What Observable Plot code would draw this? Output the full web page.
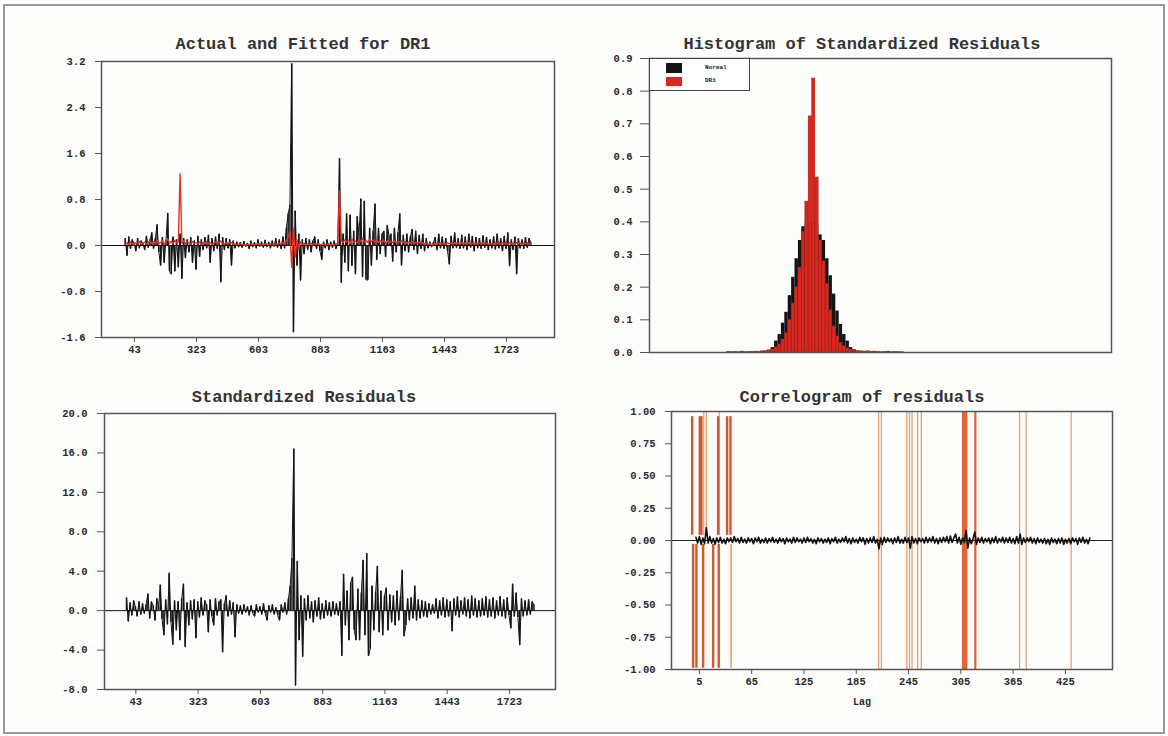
<!DOCTYPE html>
<html>
<head>
<meta charset="utf-8">
<script src="https://cdn.jsdelivr.net/npm/d3@7"></script>
<script src="https://cdn.jsdelivr.net/npm/@observablehq/plot@0.6"></script>
<style>
  html, body { margin: 0; padding: 0; background: #ffffff; }
  #page { position: relative; width: 1168px; height: 736px; background: #fdfdfc; overflow: hidden; }
  #border { position: absolute; left: 3px; top: 4px; width: 1162px; height: 730px; box-sizing: border-box; border: 2px solid #9a9a9a; }
  .panel { position: absolute; }
  .title { position: absolute; font-family: "Liberation Mono", monospace; font-size: 17px; font-weight: bold; color: #333; white-space: nowrap; transform: translate(-50%, -50%); }
  .lbl { position: absolute; font-family: "Liberation Mono", monospace; font-size: 10px; font-weight: bold; color: #2a2a2a; transform: translate(-50%, -50%); }
  #legend { position: absolute; left: 649px; top: 58px; width: 101px; height: 33px; box-sizing: border-box; border: 1.5px solid #444; background: #fff; }
  .sw { position: absolute; left: 16px; width: 16px; }
  .legtxt { position: absolute; left: 55px; font-family: "Liberation Mono", monospace; font-size: 6px; font-weight: bold; color: #222; }
</style>
</head>
<body>
<div id="page">
  <div id="border"></div>
</div>
<script>
// ---------------- DATA ----------------
// Actual and fitted DR1 (every 8th observation, starting at obs 1)
const obsStep = 8;
const actualDR1 = [
  0.12, -0.18, 0.15, -0.06, 0.1, 0.04, -0.1, 0.12, -0.05, 0.08,
  0.03, -0.08, 0.16, -0.04, 0.1, 0.22, -0.06, 0.12, 0.36, -0.12,
  -0.35, 0.14, -0.3, 0.08, 0.56, -0.45, -0.5, 0.15, -0.45, 0.1,
  -0.38, 0.2, -0.58, 0.12, -0.22, 0.1, -0.12, 0.14, -0.3, 0.08,
  -0.42, 0.16, -0.2, 0.1, -0.08, 0.14, -0.05, 0.18, -0.3, 0.12,
  -0.1, 0.15, -0.06, 0.2, -0.64, 0.14, -0.08, 0.12, -0.05, 0.1,
  -0.35, 0.08, -0.05, 0.06, -0.03, 0.05, -0.04, 0.07, -0.02, 0.04,
  -0.06, 0.08, -0.03, 0.05, -0.05, 0.1, -0.02, 0.06, -0.04, 0.09,
  -0.03, 0.06, -0.05, 0.08, -0.02, 0.12, -0.04, 0.1, -0.06, 0.15,
  -0.05, 0.3, 0.55, 0.7, 3.16, -1.51, 0.6, -0.35, 0.2, -0.61,
  0.1, -0.15, 0.12, -0.08, 0.1, -0.12, 0.08, 0.15, -0.06, 0.1,
  -0.1, -0.25, 0.06, -0.05, 0.1, -0.08, 0.06, -0.04, 0.08, -0.06,
  0.05, 1.51, -0.65, 0.2, -0.3, 0.55, -0.45, 0.53, -0.35, 0.25,
  -0.5, 0.5, 0.18, 0.81, -0.55, 0.77, -0.6, -0.6, 0.3, -0.35,
  0.25, 0.72, -0.25, 0.3, -0.15, 0.2, 0.25, -0.2, 0.35, 0.15,
  0.2, -0.28, 0.3, -0.12, 0.22, 0.55, -0.35, 0.18, -0.1, 0.2,
  -0.12, 0.15, 0.28, -0.08, 0.25, -0.15, 0.18, -0.06, 0.2, -0.1,
  0.12, -0.05, 0.06, -0.03, 0.05, 0.14, -0.08, 0.2, -0.05, 0.15,
  -0.06, 0.12, -0.1, -0.33, 0.16, -0.05, 0.22, -0.04, 0.12, -0.06,
  0.18, -0.05, 0.15, -0.08, 0.2, -0.04, 0.16, -0.1, 0.14, -0.05,
  0.12, -0.06, 0.17, -0.04, 0.14, -0.08, 0.1, -0.05, 0.15, -0.07,
  0.2, -0.05, 0.12, -0.1, 0.16, -0.06, 0.22, -0.36, 0.1, -0.08,
  0.15, -0.5, 0.12, -0.05, 0.1, -0.06, 0.14, -0.04, 0.12, 0.05
];
const fittedDR1 = [
  0.03, 0.05, 0.02, 0.06, 0.04, 0.01, 0.05, 0.03, 0.07, 0.02,
  0.04, 0.06, 0.02, 0.05, 0.08, 0.03, 0.06, 0.04, 0.1, 0.03,
  0.05, 0.08, 0.02, 0.06, 0.12, 0.04, 0.07, 0.03, 0.09, 0.05,
  0.06, 1.25, 0.04, 0.08, 0.03, 0.06, 0.05, 0.02, 0.07, 0.04,
  0.05, 0.03, 0.06, 0.02, 0.05, 0.04, 0.07, 0.03, 0.05, 0.02,
  0.04, 0.06, 0.03, 0.05, 0.08, 0.04, 0.02, 0.05, 0.03, 0.04,
  0.05, 0.02, 0.03, 0.01, 0.02, 0.03, 0.01, 0.02, 0.0, 0.02,
  0.01, 0.03, 0.02, 0.01, 0.02, 0.03, 0.01, 0.02, 0.01, 0.03,
  0.02, 0.01, 0.03, 0.02, 0.01, 0.03, 0.02, 0.04, 0.02, 0.05,
  0.03, 0.08, 0.15, 0.25, -0.38, 0.3, -0.2, 0.1, -0.05, 0.06,
  0.02, 0.04, 0.01, 0.03, 0.02, 0.04, 0.01, 0.03, 0.02, 0.03,
  0.01, 0.02, 0.03, 0.01, 0.02, 0.03, 0.01, 0.02, 0.01, 0.03,
  0.02, 0.95, 0.08, 0.05, 0.1, 0.06, 0.09, 0.04, 0.11, 0.06,
  0.08, 0.05, 0.1, 0.07, 0.12, 0.06, 0.09, 0.05, 0.11, 0.07,
  0.09, 0.06, 0.1, 0.05, 0.08, 0.06, 0.09, 0.04, 0.08, 0.06,
  0.07, 0.05, 0.09, 0.04, 0.07, 0.06, 0.08, 0.05, 0.07, 0.04,
  0.06, 0.04, 0.07, 0.03, 0.05, 0.04, 0.06, 0.03, 0.05, 0.02,
  0.04, 0.02, 0.03, 0.01, 0.02, 0.03, 0.02, 0.04, 0.02, 0.03,
  0.04, 0.02, 0.05, 0.03, 0.04, 0.02, 0.05, 0.03, 0.04, 0.02,
  0.05, 0.03, 0.04, 0.02, 0.05, 0.03, 0.04, 0.02, 0.04, 0.03,
  0.04, 0.02, 0.05, 0.03, 0.04, 0.02, 0.03, 0.04, 0.02, 0.05,
  0.03, 0.04, 0.02, 0.05, 0.03, 0.04, 0.02, 0.05, 0.03, 0.04,
  0.02, 0.05, 0.03, 0.04, 0.02, 0.04, 0.03, 0.05, 0.02, 0.03
];
// Standardized residuals (every 8th observation)
const stdResid = [
  1.3, -1.1, 0.8, -0.5, 1.0, 0.4, -0.6, 0.9, -0.4, 0.7,
  -0.3, 0.6, 1.7, -0.8, 0.9, 0.5, -1.0, 1.2, 0.4, 2.6,
  -0.9, -2.5, 1.1, -1.4, 3.8, -1.2, -3.45, 1.0, -2.0, 0.9,
  -3.0, 1.2, 2.7, -3.7, 0.8, -1.5, 1.0, -0.9, 1.1, -2.8,
  0.9, -0.7, 1.3, -0.5, 1.0, 0.6, -2.2, 1.1, -0.6, -1.5,
  1.2, -0.5, 0.9, 1.1, -4.23, 0.7, 1.5, -0.6, 1.0, -0.4,
  0.8, -2.7, 0.6, -0.3, 0.5, -0.4, 0.6, -0.2, 0.4, -0.5,
  0.5, -0.3, -0.6, 0.6, -0.2, 0.4, -0.4, 0.7, -0.3, -1.0,
  0.5, -0.2, 0.6, -0.4, 0.3, -0.5, -1.0, 0.6, -0.2, 0.8,
  -0.4, 1.2, 2.5, 5.3, 16.4, -7.6, 5.0, -3.0, 1.5, -4.7,
  1.2, -1.0, 1.5, -0.8, 0.9, -1.2, 1.0, -0.6, 1.3, -0.9,
  0.7, -0.8, 1.0, -0.5, 0.8, -0.6, 0.9, -0.4, 0.7, -0.5,
  0.9, -4.6, 3.7, -1.5, 2.0, -3.0, 2.8, 3.4, -2.0, -3.0,
  2.2, -3.0, 1.8, 5.1, -2.5, 5.8, -4.6, -3.9, 2.5, -2.0,
  1.8, 4.5, -2.2, 2.0, -2.5, 1.5, 2.3, -2.0, 1.6, -1.2,
  1.5, -1.5, 2.0, -1.0, 1.4, 4.1, -2.6, -1.5, 1.2, -1.0,
  1.3, -0.8, 2.5, -1.0, 1.1, -0.8, 1.0, -0.6, 0.9, -0.7,
  0.7, -0.4, 0.6, -0.3, 1.2, -0.8, 1.0, -0.5, 1.3, -0.7,
  1.1, -0.6, 0.9, -2.1, 1.2, -0.5, 1.4, -0.7, 1.0, -0.4,
  1.3, -0.6, 1.1, -0.8, 1.5, -0.5, 1.2, -0.7, 1.0, -0.6,
  1.2, -0.5, 1.4, -0.7, 1.1, -0.6, 1.3, -0.8, 1.0, -0.5,
  1.4, -0.6, 1.1, -0.8, 1.3, -0.5, -1.8, 2.7, -0.6, 1.8,
  -0.7, -3.5, 1.2, -0.6, 1.0, -0.5, 1.1, -0.4, 0.9, 0.6
];
const timeTicks = [43, 323, 603, 883, 1163, 1443, 1723];
const actualTicksY = [-1.6, -0.8, 0.0, 0.8, 1.6, 2.4, 3.2];
const residTicksY = [-8, -4, 0, 4, 8, 12, 16, 20];

// Histogram of standardized residuals (bin width 0.3)
const binWidth = 0.3;
const normalBinStart = -3.9;
const normalDensity = [
  0.006, 0.015, 0.035, 0.055, 0.09, 0.123, 0.174, 0.23, 0.287, 0.343,
  0.385, 0.395, 0.40, 0.40, 0.39, 0.36, 0.343, 0.287, 0.235, 0.179,
  0.127, 0.086, 0.055, 0.035, 0.015, 0.008
];
const dr1BinStart = -7.5;
const dr1Density = [
  0.002, 0.001, 0.002, 0.001, 0.003, 0.001, 0.002, 0.002, 0.003, 0.002,
  0.004, 0.005, 0.007, 0.01, 0.016, 0.025, 0.04,
  0.06, 0.1, 0.15, 0.2, 0.26, 0.37, 0.462, 0.723, 0.839, 0.536,
  0.343, 0.28, 0.21, 0.13, 0.08, 0.05, 0.03, 0.02, 0.013,
  0.009, 0.007, 0.005, 0.004, 0.003, 0.004, 0.002, 0.003, 0.002, 0.001,
  0.002, 0.003, 0.001, 0.002, 0.001, 0.001
];
const histTicksY = [0, 0.1, 0.2, 0.3, 0.4, 0.5, 0.6, 0.7, 0.8, 0.9];

// Correlogram of residuals (every 2nd lag, starting at lag 1)
const acfLagStep = 2;
const acfValues = [
  0.025, -0.02, 0.03, -0.03, 0.02, -0.025, 0.10, -0.02, 0.03, -0.02,
  0.015, -0.03, 0.02, -0.015, 0.025, -0.02, 0.01, -0.025, 0.02, -0.01,
  0.02, -0.015, 0.03, -0.01, 0.015, -0.02, 0.025, -0.015, 0.01, -0.02,
  0.02, -0.01, 0.015, -0.025, 0.02, -0.01, 0.025, -0.02, 0.01, -0.015,
  0.02, -0.02, 0.015, -0.01, 0.025, -0.015, 0.01, -0.02, 0.02, -0.01,
  0.015, -0.025, 0.02, -0.01, 0.01, -0.02, 0.025, -0.015, 0.02, -0.01,
  0.01, -0.02, 0.02, -0.015, 0.025, -0.01, 0.015, -0.02, 0.01, -0.025,
  0.02, -0.01, 0.015, -0.02, 0.01, -0.015, 0.02, -0.025, 0.015, -0.01,
  0.025, -0.02, 0.01, -0.015, 0.02, -0.01, 0.03, -0.02, 0.015, -0.025,
  0.02, -0.015, 0.01, -0.02, 0.025, -0.01, 0.02, -0.03, 0.015, -0.02,
  0.02, -0.015, 0.03, -0.02, 0.01, -0.065, 0.02, -0.03, 0.025, -0.015,
  0.02, -0.01, 0.015, -0.025, 0.02, -0.015, 0.03, -0.02, 0.01, -0.02,
  0.025, -0.015, 0.02, -0.06, 0.03, -0.02, 0.015, -0.025, 0.02, -0.01,
  0.015, -0.02, 0.025, -0.015, 0.02, -0.01, 0.03, -0.02, 0.015, -0.025,
  0.02, -0.015, 0.025, -0.01, 0.03, -0.02, 0.035, -0.015, 0.02, 0.05,
  -0.02, 0.025, -0.03, 0.02, -0.015, 0.078, -0.06, 0.02, -0.025, 0.015,
  0.065, -0.03, 0.02, -0.015, 0.025, -0.02, 0.015, -0.01, 0.02, -0.025,
  0.02, -0.015, 0.03, -0.02, 0.015, -0.01, 0.025, -0.02, 0.02, -0.015,
  0.025, -0.02, 0.015, -0.025, 0.03, -0.02, 0.05, -0.03, 0.02, -0.015,
  0.02, -0.01, 0.025, -0.02, 0.015, -0.025, 0.02, -0.015, 0.01, -0.02,
  0.015, -0.025, 0.01, -0.03, 0.02, -0.015, 0.01, -0.025, 0.015, -0.02,
  0.02, -0.03, 0.01, -0.02, 0.015, -0.025, 0.02, -0.01, 0.015, -0.03,
  0.02, -0.015, 0.025, -0.02, 0.01, -0.025, 0.02
];
// vertical marker lines in the correlogram (lag positions)
const upperDarkLags = [-3.3, 5.4, 7.3, 26.5, 36.8, 40.6];
const upperLightLags = [10, 13, 28];
const lowerDarkLags = [-2.2, 1.6, 9.3, 20.8, 27.2];
const lowerLightLags = [41.4];
const fullLightLags = [210.7, 213.8, 243, 246, 249, 255.4, 259.6, 372.4, 380, 431.6];
const fullDarkLags = [307.5, 309.2, 311.2, 321.6];
const acfTicksX = [5, 65, 125, 185, 245, 305, 365, 425];
const acfTicksY = [-1, -0.75, -0.5, -0.25, 0, 0.25, 0.5, 0.75, 1];

// ---------------- CHART ----------------
const page = document.getElementById("page");
const baseStyle = {
  fontFamily: "'Liberation Mono', monospace",
  fontSize: "10.5px",
  fontWeight: "bold",
  background: "transparent",
  color: "#2a2a2a",
  overflow: "visible"
};
function place(svg, left, top) {
  svg.classList.add("panel");
  svg.style.left = left + "px";
  svg.style.top = top + "px";
  svg.style.position = "absolute";
  page.appendChild(svg);
}
function addText(cls, txt, x, y) {
  const d = document.createElement("div");
  d.className = cls;
  d.textContent = txt;
  d.style.left = x + "px";
  d.style.top = y + "px";
  page.appendChild(d);
}

const actualRows = actualDR1.map((v, i) => ({obs: 1 + obsStep * i, v}));
const fittedRows = fittedDR1.map((v, i) => ({obs: 1 + obsStep * i, v}));
const residRows = stdResid.map((v, i) => ({obs: 1 + obsStep * i, v}));

// Top-left: Actual and Fitted
const tl = Plot.plot({
  width: 545, height: 310,
  marginLeft: 71, marginRight: 21, marginTop: 9, marginBottom: 25,
  style: baseStyle,
  x: {domain: [-106, 1940]},
  y: {domain: [-1.6, 3.2]},
  marks: [
    Plot.axisY({ticks: actualTicksY, tickSize: 6, tickPadding: 10, tickFormat: d => d.toFixed(1), label: null, stroke: "#555"}),
    Plot.axisX({ticks: timeTicks, tickSize: 5, tickPadding: 3, tickFormat: d => String(d), label: null, stroke: "#555"}),
    Plot.ruleX(actualRows, {x: "obs", y1: 0, y2: "v", stroke: "#151515", strokeWidth: 1.5, clip: true}),
    Plot.line(actualRows, {x: "obs", y: "v", stroke: "#151515", strokeWidth: 1, clip: true}),
    Plot.ruleY([0], {stroke: "#111", strokeWidth: 1}),
    Plot.line(fittedRows, {x: "obs", y: "v", stroke: "#e0332a", strokeWidth: 1.4, clip: true}),
    Plot.frame({stroke: "#555", strokeWidth: 1.5})
  ]
});
place(tl, 30, 52);
addText("title", "Actual and Fitted for DR1", 303, 44);

// Bottom-left: Standardized Residuals
const bl = Plot.plot({
  width: 545, height: 310,
  marginLeft: 74, marginRight: 20, marginTop: 9, marginBottom: 25,
  style: baseStyle,
  x: {domain: [-98, 1930]},
  y: {domain: [-8, 20]},
  marks: [
    Plot.axisY({ticks: residTicksY, tickSize: 7, tickPadding: 10, tickFormat: d => d.toFixed(1), label: null, stroke: "#555"}),
    Plot.axisX({ticks: timeTicks, tickSize: 5, tickPadding: 3, tickFormat: d => String(d), label: null, stroke: "#555"}),
    Plot.ruleX(residRows, {x: "obs", y1: 0, y2: "v", stroke: "#151515", strokeWidth: 1.5, clip: true}),
    Plot.line(residRows, {x: "obs", y: "v", stroke: "#151515", strokeWidth: 1, clip: true}),
    Plot.ruleY([0], {stroke: "#111", strokeWidth: 1}),
    Plot.frame({stroke: "#555", strokeWidth: 1.5})
  ]
});
place(bl, 30, 404);
addText("title", "Standardized Residuals", 304, 397);

// Top-right: histogram
const normalBins = normalDensity.map((v, k) => ({x1: normalBinStart + k * binWidth, x2: normalBinStart + (k + 1) * binWidth, v}));
const dr1Bins = dr1Density.map((v, k) => ({x1: dr1BinStart + k * binWidth, x2: dr1BinStart + (k + 1) * binWidth, v}));
const tr = Plot.plot({
  width: 560, height: 320,
  marginLeft: 69, marginRight: 29, marginTop: 8, marginBottom: 18,
  style: baseStyle,
  x: {domain: [-14.34, 26.43], axis: null},
  y: {domain: [0, 0.9]},
  marks: [
    Plot.axisY({ticks: histTicksY, tickSize: 9, tickPadding: 8, tickFormat: d => d.toFixed(1), label: null, stroke: "#555"}),
    Plot.rectY(normalBins, {x1: "x1", x2: "x2", y: "v", fill: "#141414", insetLeft: 0, insetRight: 0}),
    Plot.rectY(dr1Bins, {x1: "x1", x2: "x2", y: "v", fill: "#d8281e", stroke: "#7a1510", strokeWidth: 0.5, strokeOpacity: 0.6, insetLeft: 0, insetRight: 0}),
    Plot.frame({stroke: "#555", strokeWidth: 1.5})
  ]
});
place(tr, 580, 50);
addText("title", "Histogram of Standardized Residuals", 862, 44);

// legend
const leg = document.createElement("div");
leg.id = "legend";
leg.innerHTML =
  '<div class="sw" style="top:4px;height:10px;background:#141414"></div>' +
  '<div class="sw" style="top:18px;height:9px;background:#d8281e"></div>' +
  '<div class="legtxt" style="top:5px">Normal</div>' +
  '<div class="legtxt" style="top:18px">DR1</div>';
page.appendChild(leg);

// Bottom-right: correlogram
const acfRows = acfValues.map((v, j) => ({lag: 1 + acfLagStep * j, v}));
const br = Plot.plot({
  width: 550, height: 300,
  marginLeft: 81, marginRight: 28, marginTop: 7, marginBottom: 35,
  style: baseStyle,
  x: {domain: [-27, 479]},
  y: {domain: [-1, 1]},
  marks: [
    Plot.axisY({ticks: acfTicksY, tickSize: 6, tickPadding: 10, tickFormat: d => d.toFixed(2), label: null, stroke: "#555"}),
    Plot.axisX({ticks: acfTicksX, tickSize: 5, tickPadding: 3, tickFormat: d => String(d), label: null, stroke: "#555"}),
    Plot.ruleX(fullLightLags, {x: d => d, y1: -1, y2: 1, stroke: "#e2a078", strokeWidth: 1.3}),
    Plot.ruleX(fullDarkLags, {x: d => d, y1: -1, y2: 1, stroke: "#e0632f", strokeWidth: 2.2}),
    Plot.ruleX(upperLightLags, {x: d => d, y1: 0.04, y2: 1, stroke: "#e2a078", strokeWidth: 1.3}),
    Plot.ruleX(upperDarkLags, {x: d => d, y1: 0.04, y2: 0.96, stroke: "#cc5a30", strokeWidth: 2.4}),
    Plot.ruleX(lowerDarkLags, {x: d => d, y1: -0.99, y2: -0.03, stroke: "#cc5a30", strokeWidth: 2.4}),
    Plot.ruleX(lowerLightLags, {x: d => d, y1: -0.99, y2: -0.03, stroke: "#e2a078", strokeWidth: 1.6}),
    Plot.ruleY([0], {stroke: "#222", strokeWidth: 1}),
    Plot.line(acfRows, {x: "lag", y: "v", stroke: "#111", strokeWidth: 1.6}),
    Plot.frame({stroke: "#555", strokeWidth: 1.5})
  ]
});
place(br, 590, 404);
addText("title", "Correlogram of residuals", 862, 397);
addText("lbl", "Lag", 862, 702);
</script>
</body>
</html>
